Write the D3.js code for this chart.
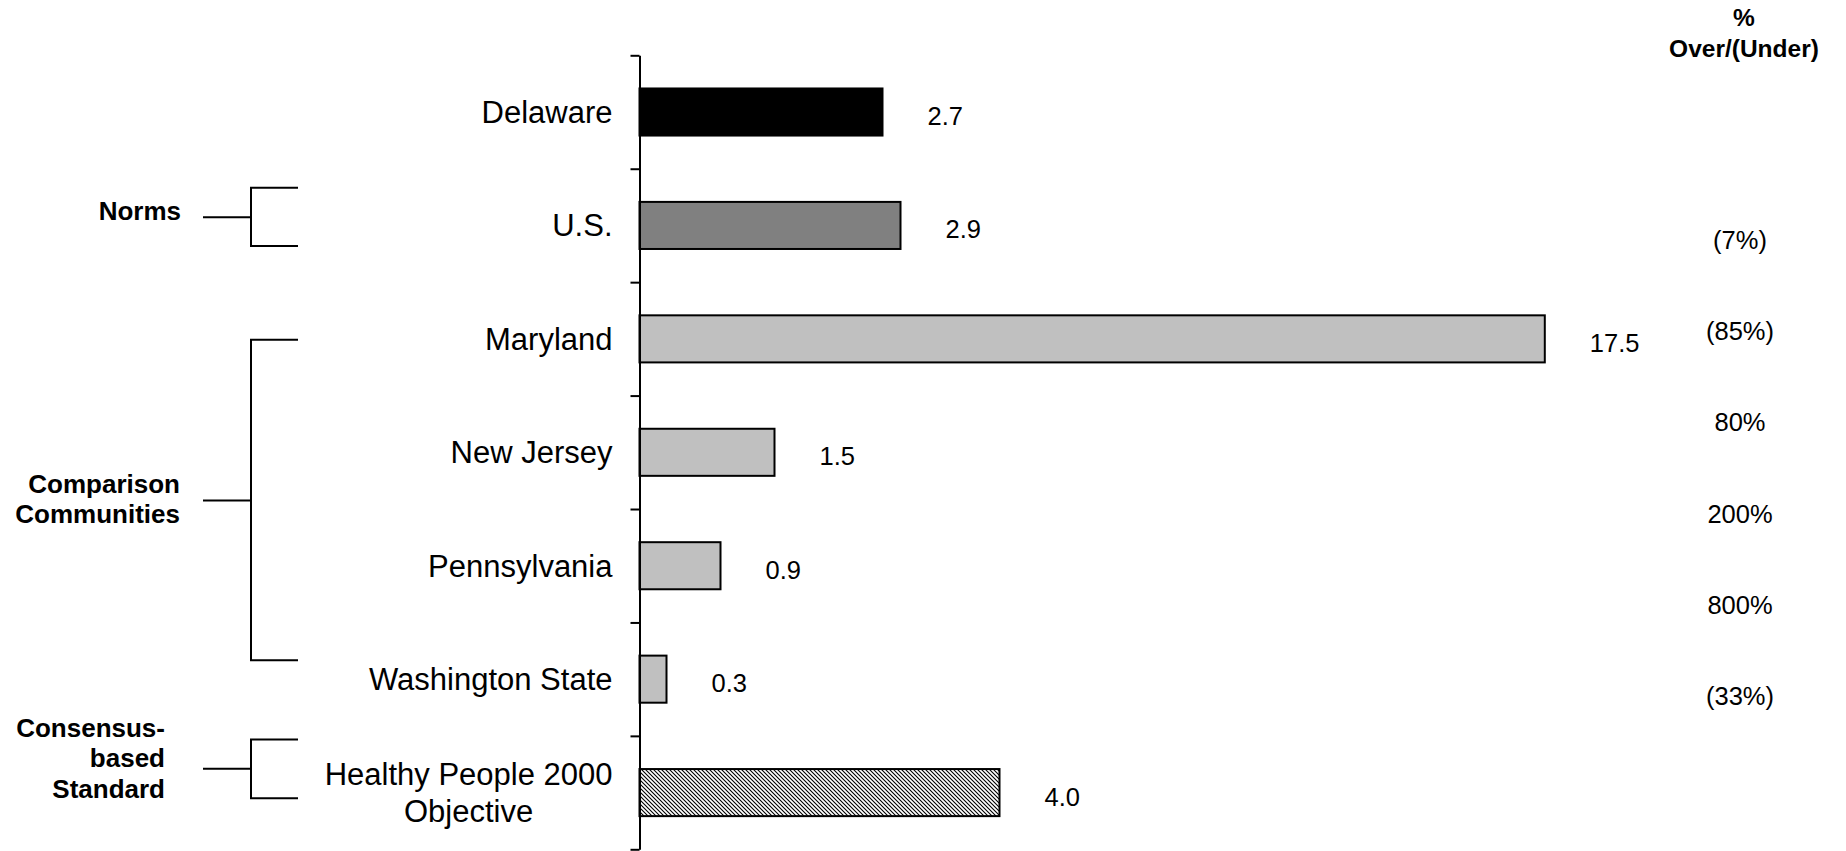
<!DOCTYPE html>
<html>
<head>
<meta charset="utf-8">
<script src="https://cdn.jsdelivr.net/npm/d3@7"></script>
<style>
  html, body { margin: 0; padding: 0; background: #fff; }
  svg { display: block; }
  text { font-family: "Liberation Sans", Arial, Helvetica, sans-serif; fill: #000; }
</style>
</head>
<body>
<svg id="chart" width="1846" height="851"></svg>
<script>
// ---------------- data ----------------
const categories = ["Delaware", "U.S.", "Maryland", "New Jersey", "Pennsylvania", "Washington State", "Healthy People 2000\nObjective"];
const values = [2.7, 2.9, 17.5, 1.5, 0.9, 0.3, 4.0];
const valueLabels = ["2.7", "2.9", "17.5", "1.5", "0.9", "0.3", "4.0"];
const barKinds = ["Delaware", "Norm", "Comparison", "Comparison", "Comparison", "Comparison", "Standard"];
const pctHeader = ["%", "Over/(Under)"];
const pctLabels = ["(7%)", "(85%)", "80%", "200%", "800%", "(33%)"];
const groupLabels = ["Norms", "Comparison\nCommunities", "Consensus-\nbased\nStandard"];

// ---------------- layout ----------------
const W = 1846, H = 851;
const axisX = 639.5, axisTop = 55.3, axisBottom = 849.3;
const pxPerUnit = 90;
const xVisibleMax = (1544.8 - axisX) / pxPerUnit; // bar beyond this is broken (clamped)
// bracket extents in band-step units: [top, bottom, stub]
const bracketLayout = [
  { span: [1.168, 1.682, 1.428], labelRight: 181, dy: 0 },
  { span: [2.508, 5.334, 3.924], labelRight: 180, dy: 4.5 },
  { span: [6.031, 6.549, 6.290], labelRight: 165, dy: -4.6 }
];

const svg = d3.select("#chart");
svg.append("rect").attr("width", W).attr("height", H).attr("fill", "#fff");

// hatch pattern
const defs = svg.append("defs");
const pat = defs.append("pattern")
  .attr("id", "hatch").attr("patternUnits", "userSpaceOnUse")
  .attr("width", 4).attr("height", 4);
pat.append("rect").attr("width", 4).attr("height", 4).attr("fill", "#fff");
pat.append("path").attr("d", "M-1,-1 L5,5 M-1,3 L1,5 M3,-1 L5,1")
  .attr("stroke", "#000").attr("stroke-width", 1.1);

const x = d3.scaleLinear().domain([0, xVisibleMax]).range([axisX, axisX + xVisibleMax * pxPerUnit]).clamp(true);
const y = d3.scaleBand().domain(categories).range([axisTop, axisBottom]).paddingInner(0.585).paddingOuter(0.2925);
const step = y.step();
const fill = d3.scaleOrdinal()
  .domain(["Delaware", "Norm", "Comparison", "Standard"])
  .range(["#000000", "#808080", "#c0c0c0", "url(#hatch)"]);

// bars
svg.append("g").selectAll("rect").data(categories).join("rect")
  .attr("x", x(0))
  .attr("y", d => y(d))
  .attr("width", (d, i) => x(values[i]) - x(0))
  .attr("height", y.bandwidth())
  .attr("fill", (d, i) => fill(barKinds[i]))
  .attr("stroke", "#000").attr("stroke-width", 2);

// axis with ticks at band boundaries
const tickScale = d3.scaleLinear().domain([0, categories.length]).range([axisTop, axisBottom]);
const axisG = svg.append("g").attr("transform", `translate(${axisX},0)`)
  .call(d3.axisLeft(tickScale).tickValues(d3.range(categories.length + 1)).tickSize(9).tickSizeOuter(0).tickFormat(""));
axisG.selectAll("path, line").attr("stroke", "#000").attr("stroke-width", 2);

// category labels
const catFont = 31, catLineH = 37;
const measure = svg.append("text").attr("font-size", catFont).attr("visibility", "hidden");
categories.forEach((c, i) => {
  const lines = c.split("\n");
  const cy = y(c) + y.bandwidth() / 2;
  const t = svg.append("text").attr("font-size", catFont);
  if (lines.length === 1) {
    t.attr("x", axisX - 27).attr("y", cy + 11).attr("text-anchor", "end").text(c);
  } else {
    let maxW = 0;
    lines.forEach(l => { measure.text(l); maxW = Math.max(maxW, measure.node().getComputedTextLength()); });
    const cx = axisX - 27 - maxW / 2;
    const first = cy + 11 - (lines.length - 1) * catLineH / 2;
    t.attr("text-anchor", "middle");
    lines.forEach((l, k) => t.append("tspan").attr("x", cx).attr("y", first + k * catLineH).text(l));
  }
});
measure.remove();

// value labels
svg.append("g").selectAll("text").data(categories).join("text")
  .attr("x", (d, i) => x(values[i]) + 45)
  .attr("y", d => y(d) + y.bandwidth() / 2 + 13)
  .attr("font-size", 25.5)
  .text((d, i) => valueLabels[i]);

// percent column
svg.append("text").attr("font-size", 24.5).attr("font-weight", "bold").attr("text-anchor", "middle")
  .selectAll("tspan").data(pctHeader).join("tspan")
  .attr("x", 1744).attr("y", (d, i) => 26 + i * 31).text(d => d);
const pctY = d3.scalePoint().domain(pctLabels).range([240, 696]);
svg.append("g").selectAll("text").data(pctLabels).join("text")
  .attr("x", 1740).attr("y", d => pctY(d) + 9)
  .attr("text-anchor", "middle").attr("font-size", 25.5)
  .text(d => d);

// group brackets and labels
const bracketG = svg.append("g").attr("stroke", "#000").attr("stroke-width", 2).attr("fill", "none");
groupLabels.forEach((g, i) => {
  const L = bracketLayout[i];
  const top = axisTop + L.span[0] * step;
  const bot = axisTop + L.span[1] * step;
  const mid = axisTop + L.span[2] * step;
  const p = d3.path();
  p.moveTo(298, top); p.lineTo(251, top); p.lineTo(251, bot); p.lineTo(298, bot);
  p.moveTo(203, mid); p.lineTo(251, mid);
  bracketG.append("path").attr("d", p.toString());
  const lines = g.split("\n");
  const first = mid + 3 + L.dy - (lines.length - 1) * 15.3;
  svg.append("text").attr("font-size", 26).attr("font-weight", "bold").attr("text-anchor", "end")
    .selectAll("tspan").data(lines).join("tspan")
    .attr("x", L.labelRight).attr("y", (d, k) => first + k * 30.7).text(d => d);
});
</script>
</body>
</html>
